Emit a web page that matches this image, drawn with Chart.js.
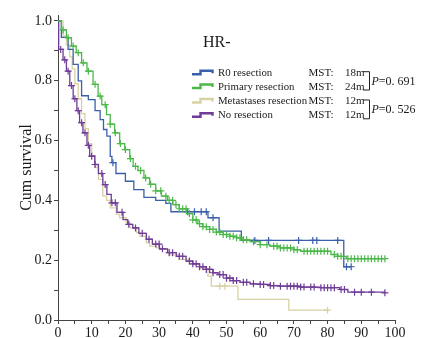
<!DOCTYPE html>
<html>
<head>
<script src="https://cdn.jsdelivr.net/npm/chart.js"></script>
<title>HR- survival</title>
<style>
  body { margin: 0; background: #fff; }
  #wrap { position: relative; width: 431px; height: 338px; }
  #legend { position: absolute; left: 0; top: 0; }
  #legend text { font-family: "Liberation Serif", "Times New Roman", serif; fill: #1a1a1a; }
</style>
</head>
<body>
<div id="wrap">
  <canvas id="km" width="431" height="338"></canvas>
  <svg id="legend" width="431" height="338"></svg>
</div>

<script>
// groups and legend text
const groups = ['R0 resection', 'Primary resection', 'Metastases resection', 'No resection'];
const mstLabels = ['18m', '24m', '12m', '12m'];
const pLabels = ['0. 691', '0. 526'];
const colors = ['#3b5fab', '#4cb84a', '#d8d1a4', '#6f3c97'];

// R0 resection
const r0Times = [0, 1, 3, 4.5, 6, 7, 9, 11, 12.5, 13.5, 14.5, 15.5, 16, 17.2, 20, 22.5, 25.5, 29, 32, 33.5, 44.5, 47.8, 54.4, 84.8, 87];
const r0Surv  = [1, 0.945, 0.905, 0.855, 0.80, 0.75, 0.737, 0.70, 0.67, 0.637, 0.615, 0.547, 0.526, 0.49, 0.464, 0.436, 0.41, 0.40, 0.39, 0.362, 0.342, 0.297, 0.266, 0.178, 0.178];
const r0Cens  = [16.3, 38.5, 40.5, 42.5, 44, 46, 58.4, 62.5, 71.4, 75.6, 76.8, 83, 85.6, 87];

// Primary resection
const prTimes = [0, 1, 2.5, 4, 5.4, 7, 8.6, 10.4, 11.9, 13, 14.4, 15.5, 16.8, 18.3, 19.8, 21.3, 22.3, 23.7, 25.5, 27.2, 29, 30.7, 32.5, 34.1, 36, 38.1, 40, 41.5, 43, 45, 47, 49, 51, 53, 55, 57, 60, 62.8, 66, 70, 72, 81, 83, 85.6, 97];
const prSurv  = [1, 0.97, 0.944, 0.916, 0.894, 0.86, 0.832, 0.788, 0.749, 0.72, 0.687, 0.655, 0.626, 0.59, 0.57, 0.54, 0.514, 0.5, 0.475, 0.454, 0.432, 0.414, 0.40, 0.386, 0.372, 0.356, 0.335, 0.322, 0.312, 0.303, 0.294, 0.286, 0.28, 0.275, 0.268, 0.262, 0.252, 0.247, 0.241, 0.235, 0.23, 0.219, 0.213, 0.205, 0.205];
const prCens  = [1.5, 3, 4.5, 6, 7.5, 9, 11, 12.5, 14, 15.5, 17, 18.5, 20, 21.5, 23, 24.5, 26, 27.5, 29, 30.5, 32, 33, 34, 35, 36, 37, 38, 39, 40, 41, 42, 43, 44, 45, 46, 47, 48, 49, 50, 51, 52, 53, 54, 55, 56, 58, 60, 62, 64, 65, 66, 67, 68, 69, 70, 71, 73, 74, 75, 76, 77, 78, 79, 80, 82, 83, 84, 86, 87, 88, 89, 90, 91, 92, 93, 94, 95, 96, 97];

// Metastases resection
const meTimes = [0, 1.5, 2.5, 3.5, 4.2, 5, 6, 7, 8, 9, 10, 11, 12, 13.3, 14.4, 15.5, 17.3, 18.3, 20.3, 21.3, 23.3, 24.3, 26.2, 27.2, 29.2, 30.2, 33, 36, 39, 42, 44.5, 45.5, 53.4, 68.5, 80];
const meSurv  = [1, 0.95, 0.92, 0.88, 0.84, 0.79, 0.74, 0.69, 0.64, 0.59, 0.55, 0.51, 0.47, 0.414, 0.40, 0.375, 0.353, 0.342, 0.325, 0.308, 0.292, 0.28, 0.258, 0.247, 0.241, 0.236, 0.218, 0.203, 0.188, 0.172, 0.147, 0.113, 0.069, 0.033, 0.033];
const meCens  = [48, 49.5, 80];

// No resection
const noTimes = [0, 0.2, 1.5, 2.5, 3.5, 4.5, 5.6, 6.4, 7.4, 8.6, 9.4, 10.9, 12, 13.3, 14.5, 15.8, 17.5, 19.3, 20.7, 22.2, 24, 26.2, 28, 30.1, 32.5, 35.1, 38, 40, 42, 44, 46, 47.5, 50, 52, 54, 57, 60, 63, 66, 72, 78, 83.6, 86, 97];
const noSurv  = [1, 0.905, 0.87, 0.832, 0.784, 0.74, 0.70, 0.66, 0.626, 0.584, 0.548, 0.52, 0.49, 0.453, 0.42, 0.392, 0.36, 0.336, 0.32, 0.308, 0.29, 0.27, 0.254, 0.238, 0.225, 0.213, 0.197, 0.188, 0.178, 0.169, 0.158, 0.152, 0.14, 0.132, 0.126, 0.121, 0.119, 0.115, 0.113, 0.11, 0.108, 0.102, 0.093, 0.091];
const noCens  = [0.8, 2, 3, 4, 5, 6, 7, 8, 9, 10, 11, 13, 14, 16, 17, 19, 21, 23, 25, 27, 29, 30, 31, 33, 34, 36, 37, 39, 40, 41, 42, 43, 44, 45, 46, 48, 49, 50, 51, 52, 53, 55, 56, 58, 60, 61, 63, 64, 66, 68, 69, 70, 71, 72, 73, 75, 76, 78, 79, 80, 81, 82, 84, 85, 88, 90, 93, 97];

const xTicks = [0, 5, 10, 15, 20, 25, 30, 35, 40, 45, 50, 55, 60, 65, 70, 75, 80, 85, 90, 95, 100];
const yTicks = [0, 0.1, 0.2, 0.3, 0.4, 0.5, 0.6, 0.7, 0.8, 0.9, 1.0];

function survAt(times, surv, t) {
    let s = surv[0];
    for (let i = 0; i < times.length; i++) {
        if (times[i] <= t) s = surv[i];
    }
    return s;
}

function curve(times, surv, color, order) {
    return {
        data: times.map((t, i) => ({ x: t, y: surv[i] })),
        borderColor: color,
        borderWidth: 1.3,
        stepped: true,
        pointRadius: 0,
        fill: false,
        order: order
    };
}

function marks(times, surv, cens, color, order) {
    return {
        data: cens.map(t => ({ x: t, y: survAt(times, surv, t) })),
        showLine: false,
        pointStyle: 'cross',
        pointRadius: 3.5,
        pointBorderWidth: 1.2,
        pointBorderColor: color,
        borderColor: color,
        order: order
    };
}

const serif = '"Liberation Serif", "Times New Roman", serif';

new Chart(document.getElementById('km'), {
    type: 'line',
    data: {
        datasets: [
            marks(prTimes, prSurv, prCens, colors[1], 1),
            curve(prTimes, prSurv, colors[1], 2),
            marks(r0Times, r0Surv, r0Cens, colors[0], 3),
            curve(r0Times, r0Surv, colors[0], 4),
            marks(noTimes, noSurv, noCens, colors[3], 5),
            curve(noTimes, noSurv, colors[3], 6),
            marks(meTimes, meSurv, meCens, colors[2], 7),
            curve(meTimes, meSurv, colors[2], 8)
        ]
    },
    options: {
        responsive: false,
        animation: false,
        devicePixelRatio: 1,
        layout: { padding: { top: 15, right: 36, left: 0, bottom: 0 } },
        plugins: { legend: { display: false }, tooltip: { enabled: false } },
        scales: {
            x: {
                type: 'linear',
                min: 0,
                max: 100,
                afterBuildTicks: s => { s.ticks = xTicks.map(v => ({ value: v })); },
                afterFit: s => { s.height = 18; },
                ticks: {
                    autoSkip: false,
                    maxRotation: 0,
                    padding: 1,
                    color: '#1a1a1a',
                    font: { family: serif, size: 14 },
                    callback: v => (v % 10 === 0 ? String(v) : '')
                },
                grid: { display: true, drawOnChartArea: false, drawTicks: true, tickLength: 4, color: '#444' },
                border: { display: true, color: '#444', width: 1 }
            },
            y: {
                min: 0,
                max: 1.02,
                afterBuildTicks: s => { s.ticks = yTicks.map(v => ({ value: v })); },
                afterFit: s => { s.width = 58; },
                ticks: {
                    autoSkip: false,
                    padding: 2,
                    color: '#1a1a1a',
                    font: { family: serif, size: 14 },
                    callback: v => (Math.round(v * 10) % 2 === 0 ? v.toFixed(1) : '')
                },
                grid: { display: true, drawOnChartArea: false, drawTicks: true, tickLength: 4, color: '#444' },
                border: { display: true, color: '#444', width: 1 },
                title: {
                    display: true,
                    text: 'Cum survival',
                    color: '#1a1a1a',
                    font: { family: serif, size: 16 },
                    padding: { top: 17, bottom: 0 }
                }
            }
        }
    }
});

// legend box, drawn as svg text
const svg = document.getElementById('legend');
const NS = 'http://www.w3.org/2000/svg';
function el(name, attrs, text) {
    const e = document.createElementNS(NS, name);
    for (const k in attrs) e.setAttribute(k, attrs[k]);
    if (text !== undefined) e.textContent = text;
    svg.appendChild(e);
    return e;
}

el('text', { x: 203, y: 47, 'font-size': 16 }, 'HR-');

const rowBase = [75.7, 89.5, 104, 118.3];
groups.forEach((g, i) => {
    const b = rowBase[i];
    el('polyline', {
        points: `192,${b - 1.5} 200.5,${b - 1.5} 200.5,${b - 5} 212.5,${b - 5} 212.5,${b - 2.5}`,
        fill: 'none', stroke: colors[i], 'stroke-width': 2.4
    });
    el('text', { x: 218, y: b, 'font-size': 10.8 }, g);
    el('text', { x: 308.5, y: b, 'font-size': 11 }, 'MST:');
    el('text', { x: 345, y: b, 'font-size': 11 }, mstLabels[i]);
});

// brackets with P values
[[0, 1], [2, 3]].forEach((pair, k) => {
    const y1 = rowBase[pair[0]] - 4;
    const y2 = rowBase[pair[1]] + 0.5;
    el('polyline', {
        points: `363,${y1} 369.5,${y1} 369.5,${y2} 363,${y2}`,
        fill: 'none', stroke: '#222', 'stroke-width': 1
    });
    const t = el('text', { x: 371.5, y: (y1 + y2) / 2 + 4, 'font-size': 12 });
    const p = document.createElementNS(NS, 'tspan');
    p.setAttribute('font-style', 'italic');
    p.textContent = 'P';
    t.appendChild(p);
    t.appendChild(document.createTextNode('=' + pLabels[k]));
});
</script>
</body>
</html>
